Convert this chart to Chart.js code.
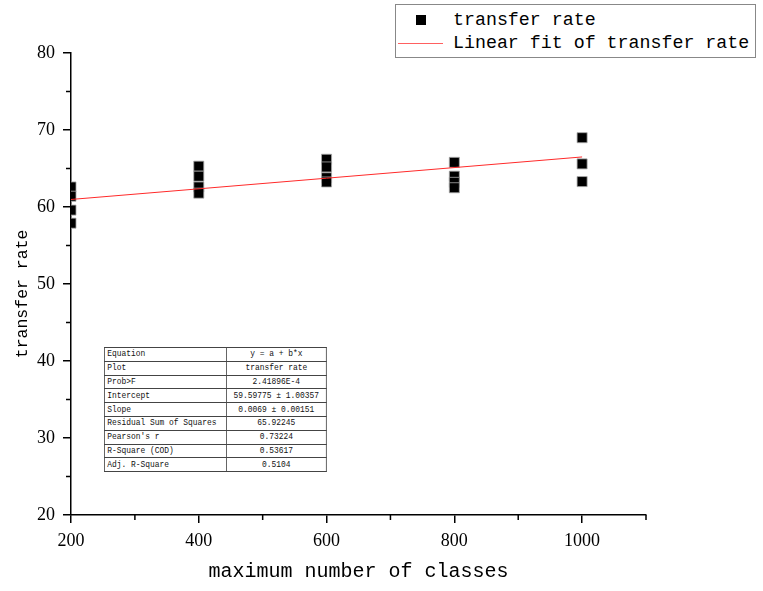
<!DOCTYPE html>
<html>
<head>
<meta charset="utf-8">
<script src="https://cdn.jsdelivr.net/npm/chart.js@4.4.0/dist/chart.umd.min.js"></script>
<style>
  html, body { margin:0; padding:0; background:#fff; }
  #wrap { position:relative; width:763px; height:591px; }
  canvas { position:absolute; left:0; top:0; }
  #legend { position:absolute; left:395px; top:4px; width:359px; height:52px; border:1px solid #888; background:#fff;
    font-family:"Liberation Mono", monospace; font-size:18.3px; color:#000; }
  #legend .row { position:absolute; left:0; height:22px; line-height:22px; }
  #legend .txt { position:absolute; left:57px; white-space:nowrap; }
  #legend .sq { position:absolute; left:20px; top:6px; width:10px; height:10px; background:#000; }
  #legend .ln { position:absolute; left:2px; top:11px; width:45px; height:1px; background:#ff6060; }
  #statwrap { position:absolute; left:104px; top:347px; transform-origin:0 0; transform:scaleX(0.825); }
  #stats { border-collapse:collapse; font-family:"Liberation Mono", monospace; width:270px;
    font-size:9.6px; color:#111; background:#fff; }
  #stats td { border:1px solid #444; height:12.8px; padding:0 3px; line-height:12px; white-space:nowrap; }
  #stats td.k { width:142px; text-align:left; }
  #stats td.v { width:116px; text-align:center; }
</style>
</head>
<body>
<div id="wrap">
  <canvas id="c" width="763" height="591"></canvas>
  <div id="legend">
    <div class="row" style="top:4px;width:100%"><div class="sq"></div><div class="txt">transfer rate</div></div>
    <div class="row" style="top:27px;width:100%"><div class="ln"></div><div class="txt">Linear fit of transfer rate</div></div>
  </div>
  <div id="statwrap"><table id="stats"></table></div>
</div>
<script>
// ---- data ----
const classes = [200, 400, 600, 800, 1000];
const rateAt200  = [62.6, 61.4, 59.6, 57.9];
const rateAt400  = [65.3, 64.0, 62.6, 61.8];
const rateAt600  = [66.2, 65.2, 63.8, 63.25];
const rateAt800  = [65.8, 64.0, 63.2, 62.5];
const rateAt1000 = [69.0, 65.6, 63.3];
const fitX = [200, 1000];
const fitY = [60.98, 66.50];
const yTicks = [20, 30, 40, 50, 60, 70, 80];
const xTicks = [200, 400, 600, 800, 1000];
const yMinorTicks = [25, 35, 45, 55, 65, 75];
const xMinorTicks = [300, 500, 700, 900, 1100];
const statLabels = ["Equation","Plot","Prob>F","Intercept","Slope","Residual Sum of Squares","Pearson's r","R-Square (COD)","Adj. R-Square"];
const statValues = ["y = a + b*x","transfer rate","2.41896E-4","59.59775 \u00b1 1.00357","0.0069 \u00b1 0.00151","65.92245","0.73224","0.53617","0.5104"];

// ---- build ----
const groups = [rateAt200, rateAt400, rateAt600, rateAt800, rateAt1000];
const points = [];
groups.forEach((g, i) => g.forEach(v => points.push({x: classes[i], y: v})));
const fitPoints = fitX.map((x, i) => ({x, y: fitY[i]}));

const tbl = document.getElementById('stats');
statLabels.forEach((l, i) => {
  const tr = document.createElement('tr');
  const a = document.createElement('td'); a.className = 'k'; a.textContent = l;
  const b = document.createElement('td'); b.className = 'v'; b.textContent = statValues[i];
  tr.appendChild(a); tr.appendChild(b); tbl.appendChild(tr);
});

const minorTicks = {
  id: 'minorTicks',
  afterDraw(chart) {
    const ctx = chart.ctx, xs = chart.scales.x, ys = chart.scales.y;
    ctx.save();
    ctx.strokeStyle = '#000'; ctx.lineWidth = 1.5;
    ctx.beginPath();
    xMinorTicks.forEach(v => { const px = xs.getPixelForValue(v); ctx.moveTo(px, xs.top); ctx.lineTo(px, xs.top + 5); });
    yMinorTicks.forEach(v => { const py = ys.getPixelForValue(v); ctx.moveTo(ys.right, py); ctx.lineTo(ys.right - 5, py); });
    ctx.stroke();
    ctx.restore();
  }
};

new Chart(document.getElementById('c'), {
  type: 'scatter',
  data: {
    datasets: [
      { label: 'transfer rate', data: points, pointStyle: 'rect', pointRadius: 7.1,
        backgroundColor: '#000', borderColor: '#aaa', pointBorderWidth: 0.8, clip: 0, order: 1 },
      { label: 'Linear fit of transfer rate', data: fitPoints, showLine: true, type: 'line',
        borderColor: '#ff2a2a', borderWidth: 1, pointRadius: 0, fill: false, order: 0 }
    ]
  },
  plugins: [minorTicks],
  options: {
    responsive: false, animation: false, devicePixelRatio: 1,
    layout: { padding: { left: 0, right: 117, top: 53, bottom: 0 } },
    plugins: { legend: { display: false }, tooltip: { enabled: false } },
    scales: {
      x: {
        type: 'linear', min: 200, max: 1100,
        afterBuildTicks: s => { s.ticks = xTicks.map(v => ({value: v})); },
        afterFit: s => { s.height = 76; },
        grid: { display: true, drawOnChartArea: false, drawTicks: true, tickLength: 8, color: '#000', lineWidth: 1.5 },
        border: { display: true, color: '#000', width: 1.5 },
        ticks: { color: '#000', padding: 7, font: { family: 'Liberation Serif', size: 18 }, callback: v => String(v), maxRotation: 0 },
        title: { display: true, text: 'maximum number of classes', color: '#000',
          font: { family: 'Liberation Mono', size: 20 }, padding: { top: 0, bottom: 7 } }
      },
      y: {
        type: 'linear', min: 20, max: 80,
        afterBuildTicks: s => { s.ticks = yTicks.map(v => ({value: v})); },
        afterFit: s => { s.width = 71; },
        grid: { display: true, drawOnChartArea: false, drawTicks: true, tickLength: 8, color: '#000', lineWidth: 1.5 },
        border: { display: true, color: '#000', width: 1.5 },
        ticks: { color: '#000', padding: 8, font: { family: 'Liberation Serif', size: 18 }, callback: v => String(v) },
        title: { display: true, text: 'transfer rate  ', color: '#000',
          font: { family: 'Liberation Mono', size: 16.5 }, padding: { top: 13, bottom: 0 } }
      }
    }
  }
});
</script>
</body>
</html>
